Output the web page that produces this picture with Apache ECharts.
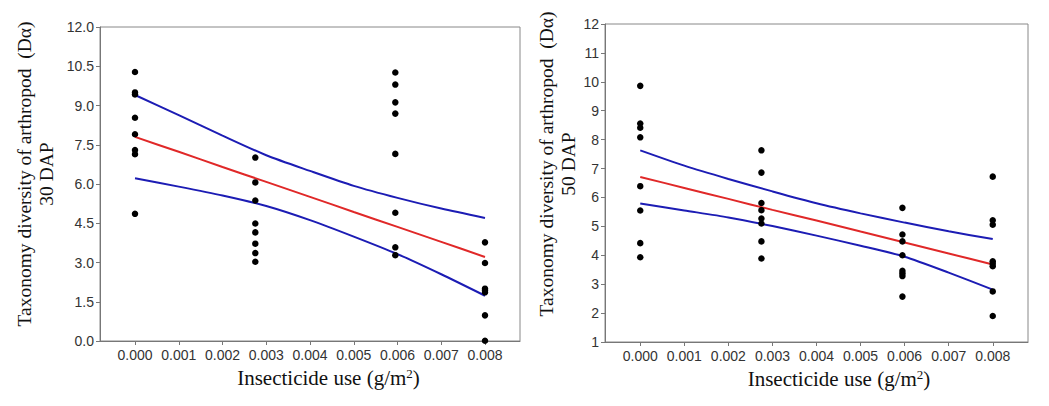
<!DOCTYPE html>
<html>
<head>
<meta charset="utf-8">
<script src="https://cdn.jsdelivr.net/npm/echarts@6/dist/echarts.min.js"></script>
<style>
html,body{margin:0;padding:0;background:#fff;}
#chart{width:1049px;height:406px;}
</style>
</head>
<body>
<div id="chart"></div>
<script>
// ---- data ----
const doseLevels = [0, 0.00275, 0.00595, 0.008];
const xTicks = [0, 0.001, 0.002, 0.003, 0.004, 0.005, 0.006, 0.007, 0.008];

// 30 DAP observations, one array per dose level
const dap30 = [
  [10.28, 9.50, 9.42, 8.53, 7.90, 7.30, 7.14, 4.86],
  [7.01, 6.06, 5.37, 4.49, 4.15, 3.72, 3.36, 3.03],
  [10.26, 9.80, 9.12, 8.69, 7.15, 4.90, 3.58, 3.28],
  [3.77, 2.98, 2.00, 1.94, 1.86, 0.98, 0.01]
];
// 50 DAP observations
const dap50 = [
  [9.86, 8.56, 8.41, 8.08, 6.39, 5.55, 4.42, 3.93],
  [7.63, 6.86, 5.81, 5.56, 5.27, 5.10, 4.48, 3.89],
  [5.64, 4.72, 4.48, 4.00, 3.46, 3.37, 3.28, 2.57],
  [6.72, 5.21, 5.06, 3.79, 3.71, 3.62, 2.75, 1.90]
];

// regression line and confidence band, read at xTicks
const fit30   = [7.80, 7.23, 6.65, 6.08, 5.51, 4.93, 4.36, 3.79, 3.21];
const upper30 = [9.40, 8.63, 7.85, 7.10, 6.50, 5.93, 5.47, 5.06, 4.70];
const lower30 = [6.22, 5.90, 5.56, 5.16, 4.62, 3.99, 3.32, 2.55, 1.73];
const fit50   = [6.71, 6.33, 5.95, 5.57, 5.20, 4.82, 4.44, 4.06, 3.68];
const upper50 = [7.63, 7.10, 6.64, 6.21, 5.80, 5.45, 5.13, 4.83, 4.56];
const lower50 = [5.79, 5.55, 5.31, 5.01, 4.68, 4.33, 3.95, 3.40, 2.81];

const yTitle30 = 'Taxonomy diversity of arthropod  (D\u03b1)\n30 DAP';
const yTitle50 = 'Taxonomy diversity of arthropod  (D\u03b1)\n50 DAP';

// ---- build ----
function points(groups) {
  const out = [];
  groups.forEach((g, i) => g.forEach(v => out.push([doseLevels[i], v])));
  return out;
}
function pairs(ys) { return xTicks.map((x, i) => [x, ys[i]]); }

const AX = '#777';
const labelFont = {fontFamily: 'Liberation Sans, Arial, sans-serif', fontSize: 14, color: '#333'};
const serif = 'Liberation Serif, Times New Roman, serif';

function xAxis(gi, pad) {
  return {
    type: 'value', gridIndex: gi, min: -0.0008, max: 0.0088,
    splitLine: {show: false},
    axisLine: {onZero: false, lineStyle: {color: AX, width: 1}},
    axisTick: {show: true, length: 4, lineStyle: {color: AX}, customValues: xTicks},
    axisLabel: Object.assign({margin: 7, customValues: xTicks, formatter: v => v.toFixed(3)}, labelFont),
    name: '{a|Insecticide use (g/m}{s|2}{a|)}',
    nameLocation: 'middle', nameGap: 26,
    nameTextStyle: {
      padding: [0, 0, 0, pad],
      rich: {
        a: {fontFamily: serif, fontSize: 21, color: '#111'},
        s: {fontFamily: serif, fontSize: 13, color: '#111', verticalAlign: 'top', padding: [0, 0, 8, 0]}
      }
    }
  };
}
function yAxis(gi, min, max, interval, dec, title, gap, pad) {
  return {
    type: 'value', gridIndex: gi, min: min, max: max, interval: interval,
    splitLine: {show: false},
    axisLine: {show: true, onZero: false, lineStyle: {color: AX, width: 1}},
    axisTick: {show: true, length: 4, lineStyle: {color: AX}},
    axisLabel: Object.assign({margin: 6, formatter: v => v.toFixed(dec)}, labelFont),
    name: title, nameLocation: 'middle', nameGap: gap,
    nameTextStyle: {fontFamily: serif, fontSize: 19.5, color: '#111', lineHeight: 22, padding: [0, 0, 0, pad]}
  };
}
function lineSeries(gi, ys, color) {
  return {
    type: 'line', xAxisIndex: gi, yAxisIndex: gi, data: pairs(ys),
    showSymbol: false, smooth: 0.25,
    lineStyle: {color: color, width: 2}, z: 2, silent: true
  };
}
function scatterSeries(gi, groups) {
  return {
    type: 'scatter', xAxisIndex: gi, yAxisIndex: gi, data: points(groups),
    symbolSize: 6.5, itemStyle: {color: '#000', opacity: 1}, z: 3, silent: true
  };
}

const RED = '#e02828', BLUE = '#1c1cb4';
const chart = echarts.init(document.getElementById('chart'), null, {renderer: 'svg'});
chart.setOption({
  backgroundColor: '#fff',
  animation: false,
  grid: [
    {left: 100, top: 27, width: 420, height: 314, show: true, borderColor: '#888', borderWidth: 1, backgroundColor: 'transparent'},
    {left: 605, top: 24, width: 423, height: 318, show: true, borderColor: '#888', borderWidth: 1, backgroundColor: 'transparent'}
  ],
  xAxis: [xAxis(0, 37), xAxis(1, 45)],
  yAxis: [
    yAxis(0, 0, 12, 1.5, 1, yTitle30, 43, 20),
    yAxis(1, 1, 12, 1, 0, yTitle50, 18, 38)
  ],
  series: [
    lineSeries(0, upper30, BLUE), lineSeries(0, lower30, BLUE), lineSeries(0, fit30, RED),
    scatterSeries(0, dap30),
    lineSeries(1, upper50, BLUE), lineSeries(1, lower50, BLUE), lineSeries(1, fit50, RED),
    scatterSeries(1, dap50)
  ]
});
</script>
</body>
</html>
